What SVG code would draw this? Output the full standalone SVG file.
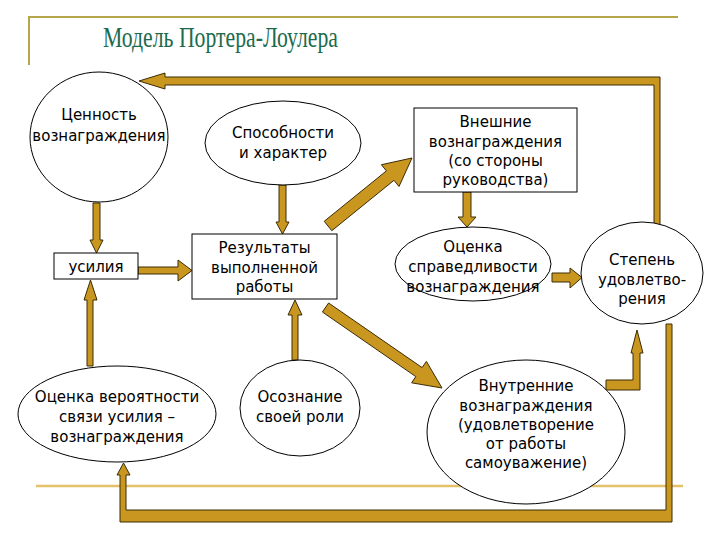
<svg xmlns="http://www.w3.org/2000/svg" width="720" height="540" viewBox="0 0 720 540">
<style>
.node{fill:#ffffff;stroke:#000000;stroke-width:1}
.t{font-family:"DejaVu Sans","Noto Sans",sans-serif;font-size:15px;fill:#000000;text-anchor:middle}
.arr{fill:#c9971f;stroke:#3b2c06;stroke-width:1;stroke-linejoin:miter}
.title{font-family:"Liberation Serif","DejaVu Serif",serif;font-size:30px;fill:#1c6b4e}
</style>
<rect width="720" height="540" fill="#ffffff"/>
<g id="frame">
<line x1="29" y1="17" x2="678" y2="17" stroke="#b6a64a" stroke-width="2"/>
<line x1="29" y1="16" x2="29" y2="65" stroke="#b6a64a" stroke-width="2"/>
<line x1="36" y1="486" x2="683" y2="486" stroke="#e3c16a" stroke-width="2.5"/>
<text class="title" x="103" y="47" textLength="235" lengthAdjust="spacingAndGlyphs">Модель Портера-Лоулера</text>
</g>
<g id="connectors">
<polygon class="arr" points="660,225 660,77 165,77 165,73 139,81 165,89 165,85 654,85 654,225"/>
<polygon class="arr" points="93,203 100,203 100,240 103,240 96.5,253 90,240 93,240"/>
<polygon class="arr" points="138,267 178,267 178,260 192,270.5 178,281 178,274 138,274"/>
<polygon class="arr" points="279,185 286,185 286,222 289,222 282.5,234 276,222 279,222"/>
<polygon class="arr" points="463,192 471,192 471,217 476,217 467,227 458,217 463,217"/>
<polygon class="arr" points="552,273 570,273 570,268 582,277.5 570,288 570,282 552,282"/>
<polygon class="arr" points="324.2,221.3 386.4,170.9 381.4,164.7 412,158 399,186.5 394,180.3 331.8,230.7"/>
<polygon class="arr" points="328.6,303 422.1,367.6 426.4,361.4 442,388 411.6,382.8 415.8,376.6 322.4,312"/>
<polygon class="arr" points="292,360 292,315 288,315 295,300 302,315 298,315 298,360"/>
<polygon class="arr" points="87,366 87,300 84,300 90.5,280 97,300 93,300 93,366"/>
<polygon class="arr" points="606,380 633,380 633,353 631,353 637,330 643,353 640,353 640,390 606,390"/>
<polygon class="arr" points="666,324 672,324 672,522 120,522 120,475 117,475 123.5,463 130,475 126,475 126,510 666,510"/>
</g>
<g id="value">
<ellipse class="node" cx="99" cy="137" rx="69" ry="65"/>
<text class="t" x="99" y="120">Ценность</text>
<text class="t" x="99" y="141">вознаграждения</text>
</g>
<g id="abilities">
<ellipse class="node" cx="283" cy="143" rx="78" ry="42"/>
<text class="t" x="283" y="138">Способности</text>
<text class="t" x="283" y="158">и характер</text>
</g>
<g id="external">
<rect class="node" x="414" y="108" width="163" height="84"/>
<text class="t" x="495.5" y="127">Внешние</text>
<text class="t" x="495.5" y="147">вознаграждения</text>
<text class="t" x="495.5" y="166">(со стороны</text>
<text class="t" x="495.5" y="185">руководства)</text>
</g>
<g id="effort">
<rect class="node" x="54" y="253" width="84" height="26"/>
<text class="t" x="96" y="272">усилия</text>
</g>
<g id="results">
<rect class="node" x="192" y="234" width="145" height="65"/>
<text class="t" x="264.5" y="253">Результаты</text>
<text class="t" x="264.5" y="273">выполненной</text>
<text class="t" x="264.5" y="292">работы</text>
</g>
<g id="fairness">
<ellipse class="node" cx="473" cy="264" rx="78" ry="37"/>
<text class="t" x="473" y="252">Оценка</text>
<text class="t" x="473" y="272">справедливости</text>
<text class="t" x="473" y="292">вознаграждения</text>
</g>
<g id="satisfaction">
<ellipse class="node" cx="642" cy="273" rx="61" ry="51"/>
<text class="t" x="642" y="265">Степень</text>
<text class="t" x="642" y="285">удовлетво-</text>
<text class="t" x="642" y="304">рения</text>
</g>
<g id="probability">
<ellipse class="node" cx="117" cy="414" rx="99" ry="48"/>
<text class="t" x="117" y="402">Оценка вероятности</text>
<text class="t" x="117" y="422">связи усилия –</text>
<text class="t" x="117" y="442">вознаграждения</text>
</g>
<g id="role">
<ellipse class="node" cx="300" cy="408" rx="60" ry="48"/>
<text class="t" x="300" y="402">Осознание</text>
<text class="t" x="300" y="422">своей роли</text>
</g>
<g id="internal">
<ellipse class="node" cx="526" cy="432" rx="99" ry="72"/>
<text class="t" x="526" y="391">Внутренние</text>
<text class="t" x="526" y="411">вознаграждения</text>
<text class="t" x="526" y="430">(удовлетворение</text>
<text class="t" x="526" y="449">от работы</text>
<text class="t" x="526" y="468">самоуважение)</text>
</g>
</svg>
